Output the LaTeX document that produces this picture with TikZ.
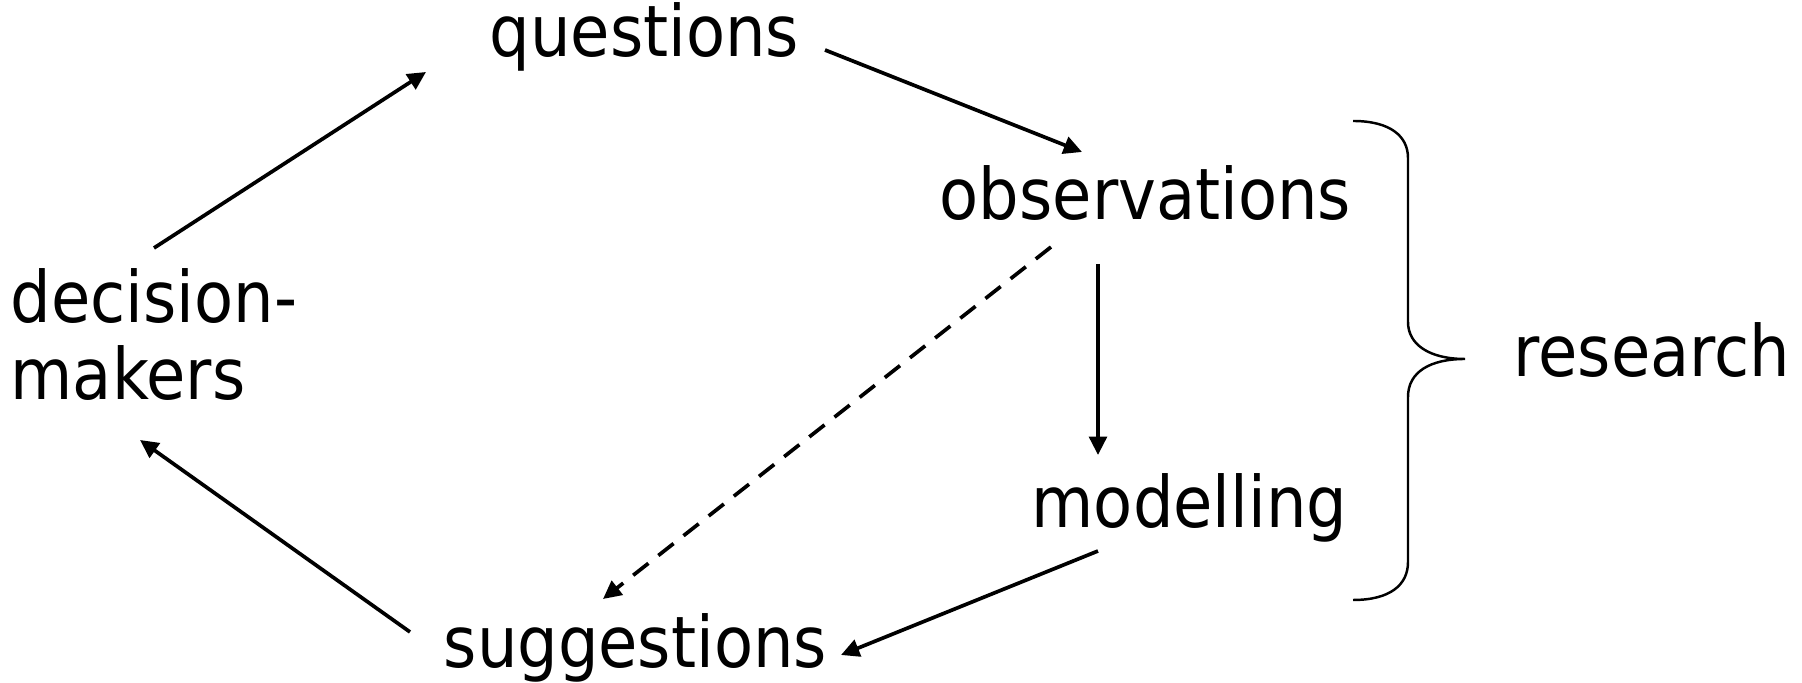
\documentclass[tikz,border=0pt]{standalone}
\usepackage{fontspec}
\setmainfont{DejaVu Sans Condensed}
\usetikzlibrary{calc}
\usetikzlibrary{arrows.meta}
\tikzset{word/.style={anchor=base west,inner sep=0pt,align=left,font=\fontsize{20.2}{21.9}\selectfont}}
\tikzset{flow/.style={-{Triangle[length=5.2pt,width=5pt]},line width=1.05pt}}

\begin{document}
\begin{tikzpicture}[x=0.01cm,y=-0.01cm]
  \useasboundingbox (0,0) rectangle (1802,683);
  \node[word] (ques) at (489,57) {questions};
  \node[word] (obs) at (939,220) {observations};
  \node[word] (mod) at (1031,528) {modelling};
  \node[word] (sugg) at (443,668) {suggestions};
  \node[word] (dm) at (10,400) {decision-\\makers};
  \node[word] (res) at (1513,377) {research};
  % the cycle
  \draw[flow] ($(dm.base west)+(144,-152)$) -- ($(ques.base west)+(-63,15)$);
  \draw[flow] ($(ques.base west)+(336,-7)$) -- ($(obs.base west)+(143,-68)$);
  \draw[flow] ($(obs.base west)+(159,44)$) -- ($(mod.base west)+(67,-73)$);
  \draw[flow,dash pattern=on 5.5pt off 3.6pt] ($(obs.base west)+(112,27)$) -- ($(sugg.base west)+(160,-69)$);
  \draw[flow] ($(mod.base west)+(67,23)$) -- ($(sugg.base west)+(398,-13)$);
  \draw[flow] ($(sugg.base west)+(-33,-36)$) -- ($(dm.base west)+(130,40)$);
  % brace
  \draw[line width=0.7pt] (1353,121) .. controls (1390,121) and (1408,136) .. (1408,158)
    -- (1408,322) .. controls (1408,345) and (1430,359) .. (1465,359)
    .. controls (1430,359) and (1408,372) .. (1408,397)
    -- (1408,562) .. controls (1408,585) and (1390,600) .. (1353,600);
\end{tikzpicture}
\end{document}
